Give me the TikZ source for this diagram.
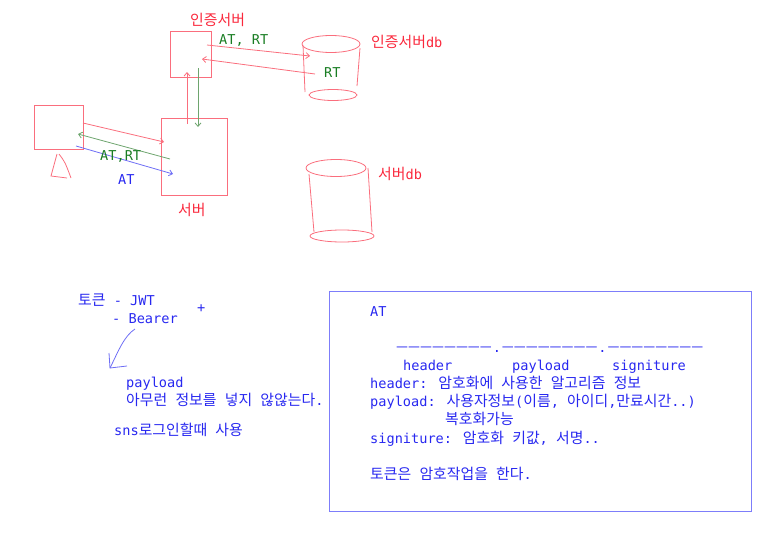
\documentclass[tikz,border=0pt]{standalone}
\usepackage{fontspec}
\setmainfont{DejaVu Sans Mono}
\newfontfamily\krfont{Noto Sans CJK KR}
\usetikzlibrary{arrows.meta,shapes.geometric}
\newcommand{\K}[1]{{\fontsize{14.9pt}{18pt}\krfont #1}}
\newcommand{\D}{{\fontsize{13pt}{18pt}\krfont ㅡㅡㅡㅡㅡㅡㅡㅡ}}
\definecolor{lred}{RGB}{250,110,125}
\definecolor{tred}{RGB}{250,40,60}
\definecolor{lgreen}{RGB}{110,165,110}
\definecolor{tgreen}{RGB}{25,125,35}
\definecolor{lblue}{RGB}{110,110,245}
\definecolor{tblue}{RGB}{40,40,240}
\definecolor{frameblue}{RGB}{125,125,250}
\tikzset{
  x=1pt,y=-1pt,
  >={Straight Barb[length=3.5pt,width=6pt]},
  box/.style={draw=lred,line width=0.9pt,rectangle,inner sep=0pt,minimum width=#1},
  redline/.style={draw=lred,line width=0.8pt},
  greenline/.style={draw=lgreen,line width=0.8pt},
  blueline/.style={draw=lblue,line width=0.8pt},
  disc/.style={draw=lred,line width=0.8pt,ellipse,inner sep=0pt},
  txt/.style={anchor=base west,inner sep=0pt,font=\fontsize{13.6pt}{16pt}\selectfont},
  rtxt/.style={txt,text=tred},
  gtxt/.style={txt,text=tgreen},
  btxt/.style={txt,text=tblue},
}
\begin{document}
\begin{tikzpicture}
\useasboundingbox (0,0) rectangle (761,538);
% boxes
\node[box=41pt,minimum height=46pt] (auth) at (190.5,54) {};
\node[box=66pt,minimum height=77pt] (server) at (194,156.5) {};
\node[box=49pt,minimum height=44pt] (client) at (58.5,127) {};
% person
\coordinate (p1) at (57,154); \coordinate (p2) at (51,176); \coordinate (p3) at (67,178);
\coordinate (p4) at (59,154); \coordinate (p5) at (71,178);
\draw[redline] (p1) -- (p2) -- (p3);
\draw[redline] (p4) .. controls (65,162) .. (p5);
% arrows
\coordinate (a1) at (83,123); \coordinate (a2) at (164,142);
\coordinate (a3) at (170,159); \coordinate (a4) at (78,134);
\coordinate (a5) at (76,146); \coordinate (a6) at (173,174);
\coordinate (a7) at (187,124); \coordinate (a8) at (187,72);
\coordinate (a9) at (198,68); \coordinate (a10) at (198,127);
\coordinate (a11) at (207,45); \coordinate (a12) at (310,56);
\coordinate (a13) at (315,74); \coordinate (a14) at (202,59);
\draw[redline,->] (a1) -- (a2);
\draw[greenline,->] (a3) -- (a4);
\draw[blueline,->] (a5) -- (a6);
\draw[redline,->] (a7) -- (a8);
\draw[greenline,->] (a9) -- (a10);
\draw[redline,->] (a11) -- (a12);
\draw[redline,->] (a13) -- (a14);
% cylinders
\node[disc,minimum width=58pt,minimum height=17pt] (c1t) at (331,44) {};
\node[disc,minimum width=48pt,minimum height=11pt] (c1b) at (333,95) {};
\coordinate (c1a) at (303,45); \coordinate (c1c) at (305,92);
\coordinate (c1d) at (360,48); \coordinate (c1e) at (357,86);
\draw[redline] (c1a) -- (c1c);
\draw[redline] (c1d) -- (c1e);
\node[disc,minimum width=60pt,minimum height=17pt] (c2t) at (336,168) {};
\node[disc,minimum width=64pt,minimum height=12pt] (c2b) at (342,236) {};
\coordinate (c2a) at (309,174); \coordinate (c2c) at (314,232);
\coordinate (c2d) at (368,168); \coordinate (c2e) at (372,232);
\draw[redline] (c2a) -- (c2c);
\draw[redline] (c2d) -- (c2e);
% labels top
\node[rtxt] (l1) at (190,25) {\K{인증서버}};
\node[rtxt] (l2) at (178,215) {\K{서버}};
\node[rtxt] (l3) at (371,47) {\K{인증서버}db};
\node[rtxt] (l4) at (378,179) {\K{서버}db};
\node[gtxt] (l5) at (219,45) {AT, RT};
\node[gtxt] (l6) at (324,77) {RT};
\node[gtxt] (l7) at (100,160) {AT,RT};
\node[btxt] (l8) at (118,184) {AT};
% bottom left
\node[btxt] (t1) at (78,305) {\K{토큰} - JWT};
\node[btxt] (t2) at (112,323) {- Bearer};
\node[btxt] (t3) at (197,312) {+};
\coordinate (h0) at (135,329); \coordinate (h1) at (110,368);
\coordinate (h2) at (109,353); \coordinate (h3) at (127,366);
\draw[blueline] (h0) .. controls (124,336) and (118,352) .. (h1);
\draw[blueline] (h2) -- (h1) -- (h3);
\node[btxt] (t4) at (126,387) {payload};
\node[btxt] (t5) at (126,405) {\K{아무런} \K{정보를} \K{넣지} \K{않않는다}.};
\node[btxt] (t6) at (114,435) {sns\K{로그인할때} \K{사용}};
% frame
\node[draw=frameblue,line width=0.9pt,rectangle,inner sep=0pt,minimum width=422pt,minimum height=220pt] (frame) at (540,401) {};
\node[btxt] (f1) at (370,316) {AT};
\node[btxt] (f2) at (396,352) {\D\makebox[10pt]{.}\D\makebox[10pt]{.}\D};
\node[btxt] (f3) at (403,370) {header};
\node[btxt] (f4) at (512,370) {payload};
\node[btxt] (f5) at (612,370) {signiture};
\node[btxt] (f6) at (370,388) {header: \K{암호화에} \K{사용한} \K{알고리즘} \K{정보}};
\node[btxt] (f7) at (370,406) {payload: \K{사용자정보}(\K{이름}, \K{아이디},\K{만료시간}..)};
\node[btxt] (f8) at (445,424) {\K{복호화가능}};
\node[btxt] (f9) at (370,443) {signiture: \K{암호화} \K{키값}, \K{서명}..};
\node[btxt] (f10) at (370,479) {\K{토큰은} \K{암호작업을} \K{한다}.};
\end{tikzpicture}
\end{document}
